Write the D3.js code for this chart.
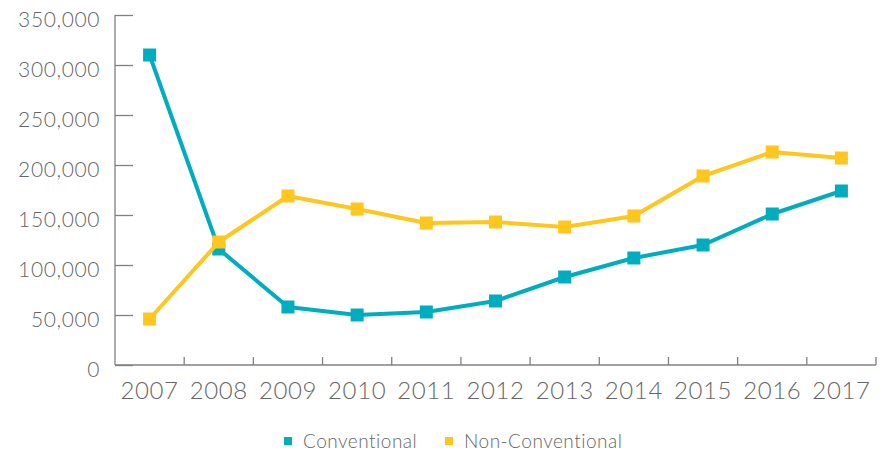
<!DOCTYPE html>
<html lang="en">
<head>
<meta charset="utf-8">
<style>
    body { margin: 0; background: #fff; }
    svg, .axis { font-family: Lato, "Open Sans", sans-serif; font-weight: 300; }
    .axis text { fill: #666; }
    .axis path, .axis line { stroke: #808080; stroke-width: 1.3; }
</style>
<script src="https://d3js.org/d3.v7.min.js"></script>
</head>
<body>
<svg width="887" height="452"></svg>
<script>
    // data
    var years = ["2007", "2008", "2009", "2010", "2011", "2012", "2013", "2014", "2015", "2016", "2017"];
    var conventional = [310000, 116000, 58000, 50000, 53000, 64000, 88000, 107000, 120000, 151000, 174000];
    var nonConventional = [46000, 123000, 169000, 156000, 142000, 143000, 138000, 149000, 189000, 213000, 207000];
    var yTicks = [0, 50000, 100000, 150000, 200000, 250000, 300000, 350000];
    var seriesNames = ["Conventional", "Non-Conventional"];
    var colors = ["#00adbf", "#ffc61e"];

    var svg = d3.select("svg");

    var x = d3.scaleBand().domain(years).range([115, 876]);
    var y = d3.scaleLinear().domain([0, 350000]).range([365, 15]);

    // y axis, ticks drawn inwards
    var yAxis = svg.append("g")
        .attr("class", "axis")
        .attr("transform", "translate(115,0)")
        .call(d3.axisLeft(y).tickValues(yTicks).tickSizeInner(-18).tickSizeOuter(0)
            .tickFormat(d3.format(",")));
    yAxis.select(".domain").remove();
    yAxis.selectAll("text")
        .attr("x", -15)
        .attr("dy", "0.55em")
        .style("font-size", "21px")
        .style("letter-spacing", "0.6px");
    svg.append("line")
        .attr("x1", 115).attr("x2", 115)
        .attr("y1", y(350000)).attr("y2", y(0))
        .attr("stroke", "#808080").attr("stroke-width", 1.3);

    // x axis: labels centered on bands, ticks at band edges
    var xAxis = svg.append("g")
        .attr("class", "axis")
        .attr("transform", "translate(0,365)")
        .call(d3.axisBottom(x).tickSize(0).tickPadding(17));
    xAxis.select(".domain").remove();
    xAxis.selectAll("text")
        .style("font-size", "24px")
        .style("letter-spacing", "0.6px");
    svg.append("line")
        .attr("x1", 115).attr("x2", 876)
        .attr("y1", 365).attr("y2", 365)
        .attr("stroke", "#808080").attr("stroke-width", 1.3);
    var edges = years.slice(1).map(function(d) { return x(d); }).concat([x.range()[1]]);
    svg.append("g").selectAll("line")
        .data(edges)
        .enter().append("line")
        .attr("x1", function(d) { return d; })
        .attr("x2", function(d) { return d; })
        .attr("y1", 365).attr("y2", 357)
        .attr("stroke", "#808080").attr("stroke-width", 1.3);

    var cx = function(i) { return x(years[i]) + x.bandwidth() / 2; };
    var line = d3.line()
        .x(function(d, i) { return cx(i); })
        .y(function(d) { return y(d); });

    [conventional, nonConventional].forEach(function(values, k) {
        var g = svg.append("g");
        g.append("path")
            .datum(values)
            .attr("fill", "none")
            .attr("stroke", colors[k])
            .attr("stroke-width", 4)
            .attr("stroke-linejoin", "round")
            .attr("d", line);
        g.selectAll("rect")
            .data(values)
            .enter().append("rect")
            .attr("x", function(d, i) { return cx(i) - 6.5; })
            .attr("y", function(d) { return y(d) - 6.5; })
            .attr("width", 13)
            .attr("height", 13)
            .attr("fill", colors[k]);
    });

    // legend
    var legendX = [284, 445];
    var legend = svg.append("g");
    seriesNames.forEach(function(name, k) {
        legend.append("rect")
            .attr("x", legendX[k]).attr("y", 437)
            .attr("width", 8).attr("height", 8)
            .attr("fill", colors[k]);
        legend.append("text")
            .attr("x", legendX[k] + 19).attr("y", 448)
            .attr("fill", "#666")
            .style("font-size", "19px")
            .style("letter-spacing", "0.5px")
            .text(name);
    });
</script>
</body>
</html>
